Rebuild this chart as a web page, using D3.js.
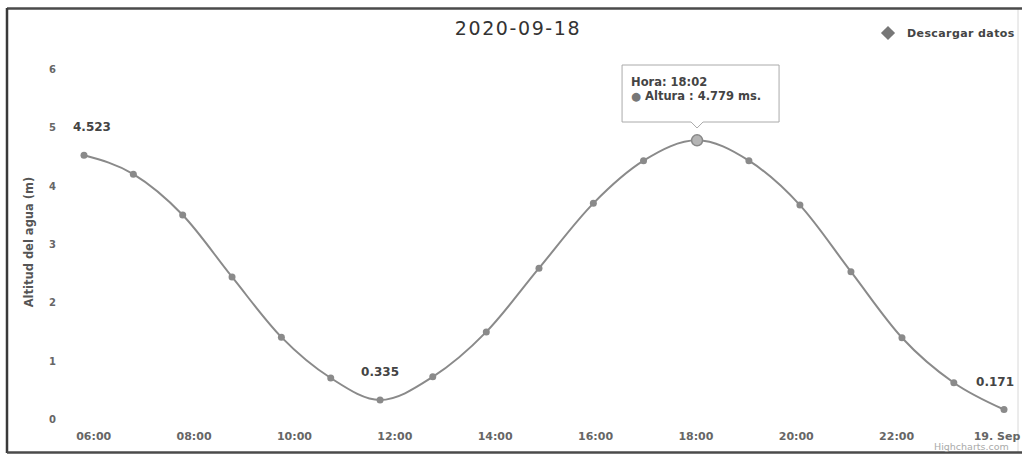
<!DOCTYPE html>
<html>
<head>
<meta charset="utf-8">
<script src="https://cdn.jsdelivr.net/npm/d3@7"></script>
<style>
  html, body { margin: 0; padding: 0; background: #fff; }
  svg { display: block; }
  text { font-family: "DejaVu Sans", Verdana, sans-serif; }
</style>
</head>
<body>
<svg id="chart" width="1022" height="455"></svg>
<script>
// ---- data ----
const chartTitle = "2020-09-18";
const times = [
  "2020-09-18 05:49", "2020-09-18 06:48", "2020-09-18 07:47", "2020-09-18 08:46",
  "2020-09-18 09:45", "2020-09-18 10:44", "2020-09-18 11:43", "2020-09-18 12:46",
  "2020-09-18 13:50", "2020-09-18 14:53", "2020-09-18 15:58", "2020-09-18 16:58",
  "2020-09-18 18:02", "2020-09-18 19:04", "2020-09-18 20:05", "2020-09-18 21:06",
  "2020-09-18 22:07", "2020-09-18 23:09", "2020-09-19 00:09"
];
const heights = [
  4.523, 4.20, 3.50, 2.44, 1.41, 0.71, 0.335, 0.73, 1.50, 2.59,
  3.70, 4.43, 4.779, 4.43, 3.67, 2.53, 1.40, 0.63, 0.171
];
const dataLabelIdx = [0, 6, 18];
const tooltipIdx = 12;
const yTicks = [0, 1, 2, 3, 4, 5, 6];
const xTickHours = 2;
const yAxisTitle = "Altitud del agua (m)";
const legendText = "Descargar datos";
const creditText = "Highcharts.com";

// ---- layout ----
const svg = d3.select("#chart");
const parse = d3.timeParse("%Y-%m-%d %H:%M");
const data = times.map((t, i) => ({ t: parse(t), v: heights[i] }));

const plotLeft = 73, plotRight = 1014;
const x = d3.scaleTime().domain(d3.extent(data, d => d.t)).range([84, 1004]);
const y = d3.scaleLinear().domain([0, 6]).range([419.5, 69]);

// frame
svg.append("rect").attr("x", 0).attr("y", 0).attr("width", 1022).attr("height", 455).attr("fill", "#fff");
svg.append("line").attr("x1", 1018).attr("x2", 1018).attr("y1", 9).attr("y2", 452)
  .attr("stroke", "#d8d8d8").attr("stroke-width", 1);
svg.append("line").attr("x1", 7).attr("x2", 1022).attr("y1", 8.5).attr("y2", 8.5)
  .attr("stroke", "#4a4a4a").attr("stroke-width", 2.5);
svg.append("line").attr("x1", 7).attr("x2", 7).attr("y1", 8).attr("y2", 453)
  .attr("stroke", "#3a3a3a").attr("stroke-width", 2.5);
svg.append("line").attr("x1", 7).attr("x2", 1022).attr("y1", 452.5).attr("y2", 452.5)
  .attr("stroke", "#4a4a4a").attr("stroke-width", 2.5);

// title
svg.append("text").attr("x", 518).attr("y", 35).attr("text-anchor", "middle")
  .attr("font-size", 19).attr("fill", "#333").attr("letter-spacing", 1.6)
  .text(chartTitle);

// legend
const sym = d3.symbol().type(d3.symbolSquare).size(100);
svg.append("path").attr("d", sym()).attr("transform", "translate(888,33) rotate(45)")
  .attr("fill", "#777");
svg.append("text").attr("x", 907).attr("y", 37).attr("font-size", 11).attr("font-weight", "bold")
  .attr("letter-spacing", 0.4).attr("fill", "#444").text(legendText);

// y axis labels
const yAxis = d3.axisLeft(y).tickValues(yTicks).tickSize(0).tickPadding(0).tickFormat(d3.format("d"));
const gy = svg.append("g").attr("transform", "translate(56,0)").call(yAxis);
gy.select(".domain").remove();
gy.selectAll("text").attr("font-size", 10).attr("font-weight", "bold").attr("fill", "#666")
  .attr("font-family", "DejaVu Sans, sans-serif");

// y axis title
svg.append("text").attr("transform", "translate(33,242) rotate(-90)").attr("text-anchor", "middle")
  .attr("font-size", 11.5).attr("font-weight", "bold").attr("fill", "#555").text(yAxisTitle);

// x axis labels
const fmt = d => (d.getHours() === 0 && d.getMinutes() === 0) ? d3.timeFormat("%-d. %b")(d) : d3.timeFormat("%H:%M")(d);
const xTicks = d3.timeHour.every(xTickHours).range(d3.timeHour.ceil(x.domain()[0]), x.domain()[1]);
const xAxis = d3.axisBottom(x).tickValues(xTicks).tickSize(0).tickPadding(0).tickFormat(fmt);
const gx = svg.append("g").attr("transform", "translate(0,432)").call(xAxis);
gx.select(".domain").remove();
gx.selectAll("text").attr("font-size", 11).attr("font-weight", "bold").attr("fill", "#666")
  .attr("font-family", "DejaVu Sans, sans-serif");

// line
const line = d3.line().x(d => x(d.t)).y(d => y(d.v)).curve(d3.curveMonotoneX);
svg.append("path").datum(data).attr("d", line).attr("fill", "none")
  .attr("stroke", "#8a8a8a").attr("stroke-width", 2);

// markers
svg.selectAll("circle.pt").data(data).join("circle").attr("class", "pt")
  .attr("cx", d => x(d.t)).attr("cy", d => y(d.v)).attr("r", 3.5).attr("fill", "#8a8a8a");

// hover marker
const hp = data[tooltipIdx];
svg.append("circle").attr("cx", x(hp.t)).attr("cy", y(hp.v)).attr("r", 5.5)
  .attr("fill", "#b5b5b5").attr("stroke", "#888").attr("stroke-width", 1.5);

// data labels
dataLabelIdx.forEach(i => {
  const d = data[i];
  const t = svg.append("text").attr("y", y(d.v) - 24).attr("text-anchor", "middle")
    .attr("font-size", 12).attr("font-weight", "bold").attr("fill", "#444")
    .text(d3.format(".3f")(d.v));
  const w = t.node().getComputedTextLength();
  const cx = Math.max(plotLeft + w / 2, Math.min(plotRight - w / 2, x(d.t)));
  t.attr("x", cx);
});

// tooltip
const tx = x(hp.t);
const bx = tx - 75, by = 65, bw = 157, bh = 57;
const tip = svg.append("g");
tip.append("path")
  .attr("d", `M${bx},${by} H${bx + bw} V${by + bh} H${tx + 6} L${tx},${by + bh + 6} L${tx - 6},${by + bh} H${bx} Z`)
  .attr("fill", "#fff").attr("stroke", "#aaa").attr("stroke-width", 1);
tip.append("text").attr("x", bx + 9).attr("y", by + 21).attr("font-size", 11.5).attr("font-weight", "bold")
  .attr("fill", "#444").text("Hora: " + d3.timeFormat("%H:%M")(hp.t));
const t2 = tip.append("text").attr("x", bx + 9).attr("y", by + 35).attr("font-size", 11.5)
  .attr("font-weight", "bold").attr("fill", "#444");
t2.append("tspan").attr("fill", "#777").text("● ");
t2.append("tspan").text("Altura : " + d3.format(".3f")(hp.v) + " ms.");

// credits
svg.append("text").attr("x", 934).attr("y", 450).attr("font-size", 9.5).attr("fill", "#aaa")
  .text(creditText);
</script>
</body>
</html>
